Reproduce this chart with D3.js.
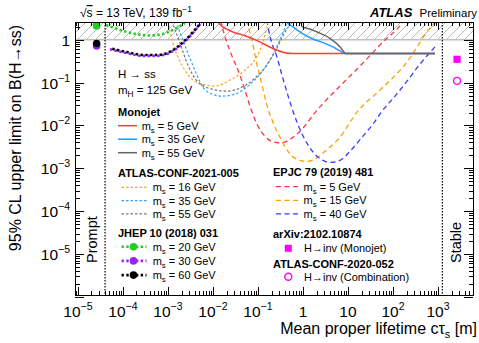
<!DOCTYPE html>
<html>
<head>
<meta charset="utf-8">
<script src="https://cdn.jsdelivr.net/npm/d3@7"></script>
<style>
body { margin: 0; background: #fff; }
text { font-family: "Liberation Sans", Arial, Helvetica, sans-serif; fill: #000; }
</style>
</head>
<body>
<div id="chart"></div>
<script>
// limits vs mean proper lifetime: [c*tau in m, 95% CL upper limit on B(H->ss)]
var monojet5 = [[0.0105, 3.8], [0.0129, 2.6], [0.0264, 1.55], [0.054, 1.23], [0.111, 0.89], [0.205, 0.64], [0.341, 0.52], [0.57, 0.48], [858, 0.48]];
var monojet35 = [[0.398, 3.2], [0.44, 2.6], [0.6, 2.0], [1.0, 1.37], [1.67, 1.04], [2.78, 0.86], [4.64, 0.68], [6.64, 0.55], [9.0, 0.48], [858, 0.48]];
var monojet55 = [[0.9, 3.8], [0.95, 2.03], [1.43, 1.79], [2.05, 1.52], [3.98, 1.08], [6.64, 0.69], [9.0, 0.48], [858, 0.48]];

var conf16 = [[9.0e-4, 4.5], [1.0e-3, 2.6], [1.29e-3, 0.84], [2.05e-3, 0.257], [3.6e-3, 0.115], [7.4e-3, 0.087], [0.0111, 0.083], [0.0239, 0.115], [0.0514, 0.196], [0.0903, 0.375], [0.129, 0.89], [0.167, 2.6], [0.185, 4.5]];
var conf35 = [[1.43e-3, 4.5], [1.58e-3, 2.6], [2.15e-3, 0.99], [3.4e-3, 0.286], [6.0e-3, 0.0785], [9.5e-3, 0.0538], [0.0158, 0.0483], [0.0308, 0.0538], [0.06, 0.083], [0.111, 0.158], [0.185, 0.336], [0.293, 0.89], [0.44, 2.6], [0.514, 4.5]];
var conf55 = [[1.17e-3, 4.5], [1.29e-3, 2.6], [1.75e-3, 1.0], [2.78e-3, 0.257], [4.64e-3, 0.103], [9.5e-3, 0.0705], [0.0195, 0.0632], [0.0398, 0.0743], [0.0815, 0.121], [0.151, 0.243], [0.251, 0.577], [0.378, 1.37], [0.541, 2.9], [0.6, 4.5]];

var jhep20 = [[4.19e-5, 2.22], [8.58e-5, 1.7], [1.67e-4, 1.41], [3.98e-4, 1.26], [7.74e-4, 1.37], [1.43e-3, 1.79], [2.39e-3, 2.47]];
var jhep30 = [[5.14e-5, 0.6], [1.23e-4, 0.49], [2.78e-4, 0.42], [5.7e-4, 0.42], [1.11e-3, 0.5], [2.05e-3, 0.79], [3.41e-3, 1.36], [5.3e-3, 2.4]];
var jhep60 = [[5.14e-5, 0.632], [1.23e-4, 0.518], [2.78e-4, 0.441], [5.7e-4, 0.441], [1.11e-3, 0.526], [2.05e-3, 0.828], [3.41e-3, 1.42], [5.14e-3, 2.34]];
// prompt points of the same analysis
var jhepPromptCtau = 2.6e-5;
var jhepPrompt = [2.1, 0.716, 0.82]; // 20, 30, 60 GeV

var epjc5 = [[0.0135, 4.5], [0.0151, 2.6], [0.0195, 1.0], [0.0264, 0.418], [0.036, 0.196], [0.0489, 0.0785], [0.0664, 0.0282], [0.095, 0.0107], [0.143, 5.58e-3], [0.215, 4.15e-3], [0.324, 3.93e-3], [0.514, 4.75e-3], [0.858, 7.3e-3], [2.05, 0.0227], [6.64, 0.083], [18.5, 0.243], [51.4, 0.755], [167, 2.6], [215, 3.8]];
var epjc15 = [[0.0514, 4.5], [0.0561, 2.9], [0.0736, 0.99], [0.0935, 0.286], [0.123, 0.0873], [0.158, 0.0297], [0.215, 0.0119], [0.308, 5.3e-3], [0.464, 2.49e-3], [0.736, 1.62e-3], [1.21, 1.45e-3], [1.95, 1.71e-3], [3.08, 2.49e-3], [6.64, 5.3e-3], [15.8, 0.0204], [51.4, 0.0667], [205, 0.302], [570, 1.52], [858, 2.6]];
var epjc40 = [[0.143, 4.5], [0.156, 2.9], [0.194, 0.99], [0.26, 0.418], [0.341, 0.15], [0.44, 0.06], [0.6, 0.0215], [0.858, 8.15e-3], [1.23, 3.83e-3], [1.85, 2.12e-3], [2.78, 1.53e-3], [4.19, 1.37e-3], [6.64, 1.53e-3], [11.1, 2.49e-3], [20.5, 5.3e-3], [35.9, 0.0107], [57, 0.0215], [111, 0.0483], [205, 0.108], [398, 0.271], [935, 0.755]];

// H->inv based points, shown in the stable region
var invCtau = 2650;
var invMonojet = 0.35;
var invComb = 0.11;

var promptCtau = 4e-5, stableCtau = 1250;

var monoMass = ["5", "35", "55"];
var confMass = ["16", "35", "55"];
var jhepMass = ["20", "30", "60"];
var epjcMass = ["5", "15", "40"];

var xExp = [-5, -4, -3, -2, -1, 0, 1, 2, 3];
var yExp = [-5, -4, -3, -2, -1, 0];

// styles
var monoColors = ["#ff3b3b", "#1a9cff", "#666666"];
var confColors = ["#ffa41f", "#2aa8ff", "#777777"];
var jhepColors = ["#22cc22", "#9922ff", "#000000"];
var epjcColors = ["#ff3344", "#ffa000", "#3a3aff"];
var magenta = "#ff00ff";

var W = 479, H = 343;
var margin = { top: 22, right: 6, bottom: 48, left: 75 };
var x0 = margin.left, x1 = W - margin.right, y0 = margin.top, y1 = H - margin.bottom;

var svg = d3.select("#chart").append("svg")
    .attr("width", W)
    .attr("height", H);

var x = d3.scaleLog().domain([8.6e-6, 6000]).range([x0, x1]);
var y = d3.scaleLog().domain([1.1e-6, 2.6]).range([y1, y0]);

var defs = svg.append("defs");
defs.append("clipPath").attr("id", "clip")
    .append("rect").attr("x", x0).attr("y", y0).attr("width", x1 - x0).attr("height", y1 - y0);
var pat = defs.append("pattern").attr("id", "hatch")
    .attr("patternUnits", "userSpaceOnUse")
    .attr("width", 9).attr("height", 9);
pat.append("path")
    .attr("d", "M-2,2 L2,-2 M0,9 L9,0 M7,11 L11,7")
    .attr("stroke", "#a8a8a8")
    .attr("stroke-width", 0.8);

// excluded region above 1
svg.append("rect")
    .attr("x", x0).attr("y", y0)
    .attr("width", x1 - x0).attr("height", y(1) - y0)
    .attr("fill", "url(#hatch)");
svg.append("line")
    .attr("x1", x0).attr("x2", x1)
    .attr("y1", y(1)).attr("y2", y(1))
    .attr("stroke", "#c0c0c0").attr("stroke-width", 1.5);

var plot = svg.append("g").attr("clip-path", "url(#clip)");

var line = d3.line()
    .x(function (d) { return x(d[0]); })
    .y(function (d) { return y(d[1]); })
    .curve(d3.curveMonotoneX);

function drawCurve(data, color, width, dash, offset) {
    plot.append("path")
        .datum(data)
        .attr("d", line)
        .attr("fill", "none")
        .attr("stroke", color)
        .attr("stroke-width", width)
        .attr("stroke-dasharray", dash)
        .attr("stroke-dashoffset", offset || 0);
}

// EPJC dashed
[epjc5, epjc15, epjc40].forEach(function (d, i) {
    drawCurve(d, epjcColors[i], 1.3, "5,3.5");
});
// ATLAS-CONF-2021-005 short dashes
[conf16, conf35, conf55].forEach(function (d, i) {
    drawCurve(d, confColors[i], 1.2, "2.5,2");
});
// JHEP heavy dots
drawCurve(jhep20, jhepColors[0], 2.6, "2.4,2.4");
drawCurve(jhep30, jhepColors[1], 2.6, "2.4,2.4");
drawCurve(jhep60, jhepColors[2], 2.6, "2.4,2.4", 2.4);
// monojet solid
[monojet5, monojet35, monojet55].forEach(function (d, i) {
    drawCurve(d, monoColors[i], 1.5, null);
});

// prompt points
[0, 1, 2].forEach(function (i) {
    plot.append("circle")
        .attr("cx", x(jhepPromptCtau))
        .attr("cy", y(jhepPrompt[i]))
        .attr("r", 3.8)
        .attr("fill", jhepColors[i]);
});

// H->inv points
plot.append("rect")
    .attr("x", x(invCtau) - 3.6).attr("y", y(invMonojet) - 3.6)
    .attr("width", 7.2).attr("height", 7.2)
    .attr("fill", magenta);
plot.append("circle")
    .attr("cx", x(invCtau)).attr("cy", y(invComb))
    .attr("r", 3.5)
    .attr("fill", "none").attr("stroke", magenta).attr("stroke-width", 1.4);

// prompt / stable boundaries
[promptCtau, stableCtau].forEach(function (c) {
    svg.append("line")
        .attr("x1", x(c)).attr("x2", x(c))
        .attr("y1", y0).attr("y2", y1)
        .attr("stroke", "#000").attr("stroke-width", 1.2)
        .attr("stroke-dasharray", "1.5,1.5");
});
svg.append("text")
    .attr("transform", "translate(" + (x(promptCtau) - 8) + "," + (y1 - 32) + ") rotate(-90)")
    .attr("font-size", "14.5px")
    .text("Prompt");
svg.append("text")
    .attr("transform", "translate(" + (x(stableCtau) + 18.5) + "," + (y1 - 32) + ") rotate(-90)")
    .attr("font-size", "14.5px")
    .text("Stable");

// axes: ticks on all four sides, pointing inward
var xMajor = xExp.map(function (k) { return Math.pow(10, k); });
var yMajor = [-6, -5, -4, -3, -2, -1, 0].map(function (k) { return Math.pow(10, k); });
function minor(scale, lo, hi) {
    var t = [], dom = scale.domain();
    for (var k = lo; k <= hi; k++)
        for (var m = 2; m <= 9; m++) {
            var v = m * Math.pow(10, k);
            if (v >= dom[0] && v <= dom[1]) t.push(v);
        }
    return t;
}
var xMinor = minor(x, -6, 3);
var yMinor = minor(y, -7, 0);

function ax(axis, tx, ty, values, size) {
    svg.append("g")
        .attr("transform", "translate(" + tx + "," + ty + ")")
        .call(axis.tickValues(values).tickSize(size).tickFormat(""))
        .call(function (g) { g.select(".domain").remove(); })
        .selectAll("line").attr("stroke", "#000").attr("shape-rendering", "crispEdges");
}
ax(d3.axisBottom(x), 0, y1, xMajor, -8);
ax(d3.axisBottom(x), 0, y1, xMinor, -4);
ax(d3.axisTop(x), 0, y0, xMajor, -8);
ax(d3.axisTop(x), 0, y0, xMinor, -4);
ax(d3.axisLeft(y), x0, 0, yMajor, -9);
ax(d3.axisLeft(y), x0, 0, yMinor, -4.5);
ax(d3.axisRight(y), x1, 0, yMajor, -9);
ax(d3.axisRight(y), x1, 0, yMinor, -4.5);

svg.append("rect")
    .attr("x", x0).attr("y", y0)
    .attr("width", x1 - x0).attr("height", y1 - y0)
    .attr("fill", "none").attr("stroke", "#000").attr("stroke-width", 1)
    .attr("shape-rendering", "crispEdges");

function powText(t, k) {
    if (k === 0) { t.text("1"); return; }
    if (k === 1) { t.text("10"); return; }
    t.text("10");
    t.append("tspan").attr("dy", -7).attr("font-size", "10.5px")
        .text(k < 0 ? "\u2212" + (-k) : String(k));
}
xExp.forEach(function (k) {
    var t = svg.append("text")
        .attr("x", x(Math.pow(10, k)))
        .attr("y", y1 + 22)
        .attr("text-anchor", "middle")
        .attr("font-size", "15.5px");
    powText(t, k);
});
yExp.forEach(function (k) {
    var t = svg.append("text")
        .attr("x", x0 - 5)
        .attr("y", y(Math.pow(10, k)) + 6)
        .attr("text-anchor", "end")
        .attr("font-size", "15.5px");
    powText(t, k);
});

// axis titles
svg.append("text")
    .attr("transform", "translate(21," + (y0 + 3) + ") rotate(-90)")
    .attr("text-anchor", "end")
    .attr("font-size", "16px")
    .text("95% CL upper limit on B(H\u2192ss)");
var xt = svg.append("text")
    .attr("x", W - 2).attr("y", H - 9)
    .attr("text-anchor", "end")
    .attr("font-size", "16px");
xt.append("tspan").text("Mean proper lifetime c\u03c4");
xt.append("tspan").attr("dy", 4).attr("font-size", "11px").text("s");
xt.append("tspan").attr("dy", -4).text(" [m]");

// header
var hd = svg.append("text").attr("x", 80).attr("y", 17).attr("font-size", "12px");
hd.append("tspan").text("\u221a");
hd.append("tspan").style("text-decoration", "overline").text("s");
hd.append("tspan").text(" = 13 TeV, 139 fb");
hd.append("tspan").attr("dy", -5).attr("font-size", "8.5px").text("\u22121");
svg.append("text")
    .attr("x", 370).attr("y", 17)
    .attr("font-size", "13px").attr("font-weight", "bold").attr("font-style", "italic")
    .text("ATLAS");
svg.append("text")
    .attr("x", 477).attr("y", 17)
    .attr("text-anchor", "end")
    .attr("font-size", "11.5px")
    .text("Preliminary");

// legend
function mLabel(xx, yy, sub, rest, size) {
    var t = svg.append("text").attr("x", xx).attr("y", yy).attr("font-size", size + "px");
    t.append("tspan").text("m");
    t.append("tspan").attr("dy", 3).attr("font-size", (size * 0.72) + "px").text(sub);
    t.append("tspan").attr("dy", -3).text(rest);
}
function header(xx, yy, s) {
    svg.append("text").attr("x", xx).attr("y", yy)
        .attr("font-size", "11px").attr("font-weight", "bold").text(s);
}
function legLine(xa, xb, yy, color, width, dash) {
    svg.append("line")
        .attr("x1", xa).attr("x2", xb).attr("y1", yy).attr("y2", yy)
        .attr("stroke", color).attr("stroke-width", width)
        .attr("stroke-dasharray", dash);
}

svg.append("text").attr("x", 118).attr("y", 78).attr("font-size", "11.5px").text("H \u2192 ss");
mLabel(118, 94, "H", " = 125 GeV", 11.5);

header(118, 116, "Monojet");
monoMass.forEach(function (m, i) {
    var yy = 125.7 + i * 13.5;
    legLine(118, 137, yy, monoColors[i], 1.5, null);
    mLabel(141.7, yy + 4, "s", " = " + m + " GeV", 11);
});

header(118, 177, "ATLAS-CONF-2021-005");
confMass.forEach(function (m, i) {
    var yy = 187.3 + i * 13.3;
    legLine(121.5, 146.5, yy, confColors[i], 1.2, "2.5,2");
    mLabel(152.7, yy + 4, "s", " = " + m + " GeV", 11);
});

header(118, 237, "JHEP 10 (2018) 031");
jhepMass.forEach(function (m, i) {
    var yy = 246.7 + i * 14.2;
    legLine(121.5, 146.5, yy, jhepColors[i], 2.6, "2.4,2.4");
    svg.append("circle").attr("cx", 133.5).attr("cy", yy).attr("r", 3.8).attr("fill", jhepColors[i]);
    mLabel(152.7, yy + 4, "s", " = " + m + " GeV", 11);
});

header(273, 176, "EPJC 79 (2019) 481");
epjcMass.forEach(function (m, i) {
    var yy = 186.7 + i * 13.6;
    legLine(276, 299, yy, epjcColors[i], 1.3, "5,3.5");
    mLabel(303.5, yy + 4, "s", " = " + m + " GeV", 11);
});

header(273, 237.5, "arXiv:2102.10874");
svg.append("rect").attr("x", 288.3 - 3.5).attr("y", 248.3 - 3.5).attr("width", 7).attr("height", 7).attr("fill", magenta);
svg.append("text").attr("x", 304).attr("y", 252.3).attr("font-size", "11px").text("H\u2192inv (Monojet)");
header(273, 267.5, "ATLAS-CONF-2020-052");
svg.append("circle").attr("cx", 288.3).attr("cy", 276.7).attr("r", 3.5)
    .attr("fill", "none").attr("stroke", magenta).attr("stroke-width", 1.4);
svg.append("text").attr("x", 304).attr("y", 280.7).attr("font-size", "11px").text("H\u2192inv (Combination)");
</script>
</body>
</html>
